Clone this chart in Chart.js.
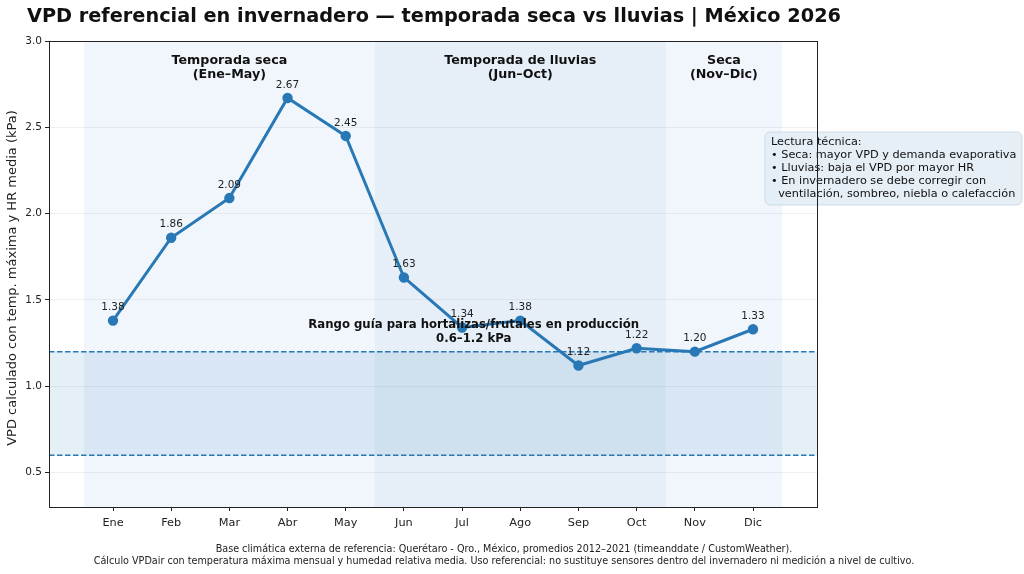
<!DOCTYPE html>
<html>
<head>
<meta charset="utf-8">
<script src="https://cdn.jsdelivr.net/npm/chart.js@4.4.1/dist/chart.umd.min.js"></script>
<style>
  html, body { margin: 0; padding: 0; background: #fff; }
  #wrap { width: 1024px; height: 574px; position: relative; }
</style>
</head>
<body>
<div id="wrap"><canvas id="vpdChart" width="1024" height="574"></canvas></div>
<script>
// === Data ===
const months = ['Ene', 'Feb', 'Mar', 'Abr', 'May', 'Jun', 'Jul', 'Ago', 'Sep', 'Oct', 'Nov', 'Dic'];
const vpdValues = [1.38, 1.86, 2.09, 2.67, 2.45, 1.63, 1.34, 1.38, 1.12, 1.22, 1.20, 1.33];
const yTicks = [0.5, 1.0, 1.5, 2.0, 2.5, 3.0];
const guideRange = [0.6, 1.2];
// seasons: month-index span, label lines, fill
const seasons = [
    { from: -0.5, to: 4.5, label: ['Temporada seca', '(Ene–May)'], fill: 'rgba(110,165,215,0.10)' },
    { from: 4.5, to: 9.5, label: ['Temporada de lluvias', '(Jun–Oct)'], fill: 'rgba(60,130,200,0.13)' },
    { from: 9.5, to: 11.5, label: ['Seca', '(Nov–Dic)'], fill: 'rgba(110,165,215,0.10)' }
];
const titleText = 'VPD referencial en invernadero — temporada seca vs lluvias | México 2026';
const yTitle = 'VPD calculado con temp. máxima y HR media (kPa)';
const noteLines = [
    'Lectura técnica:',
    '• Seca: mayor VPD y demanda evaporativa',
    '• Lluvias: baja el VPD por mayor HR',
    '• En invernadero se debe corregir con',
    '  ventilación, sombreo, niebla o calefacción'
];
const footerLines = [
    'Base climática externa de referencia: Querétaro - Qro., México, promedios 2012–2021 (timeanddate / CustomWeather).',
    'Cálculo VPDair con temperatura máxima mensual y humedad relativa media. Uso referencial: no sustituye sensores dentro del invernadero ni medición a nivel de cultivo.'
];

const FONT = '"DejaVu Sans", sans-serif';
const LINE = '#2878b5';

// === Drawing helpers ===
const decorPlugin = {
    id: 'decor',
    beforeDatasetsDraw(chart) {
        const { ctx, chartArea: a, scales: { x, y } } = chart;
        ctx.save();
        ctx.beginPath();
        ctx.rect(a.left, a.top, a.right - a.left, a.bottom - a.top);
        ctx.clip();
        // season spans
        seasons.forEach(s => {
            ctx.fillStyle = s.fill;
            ctx.fillRect(x.getPixelForValue(s.from), a.top, x.getPixelForValue(s.to) - x.getPixelForValue(s.from), a.bottom - a.top);
        });
        // guide band
        const yHi = y.getPixelForValue(guideRange[1]);
        const yLo = y.getPixelForValue(guideRange[0]);
        ctx.fillStyle = 'rgba(40,120,181,0.12)';
        ctx.fillRect(a.left, yHi, a.right - a.left, yLo - yHi);
        ctx.strokeStyle = LINE;
        ctx.lineWidth = 1.5;
        ctx.setLineDash([5.5, 2.5]);
        [yHi, yLo].forEach(py => {
            ctx.beginPath();
            ctx.moveTo(a.left, py);
            ctx.lineTo(a.right, py);
            ctx.stroke();
        });
        ctx.setLineDash([]);
        ctx.restore();

        // season labels
        ctx.save();
        ctx.fillStyle = '#111';
        ctx.font = 'bold 12.7px ' + FONT;
        ctx.textAlign = 'center';
        ctx.textBaseline = 'middle';
        seasons.forEach(s => {
            const cx = x.getPixelForValue((s.from + s.to) / 2);
            s.label.forEach((t, i) => ctx.fillText(t, cx, 60.5 + i * 14));
        });
        ctx.restore();
    },
    afterDatasetsDraw(chart) {
        const { ctx, chartArea: a, scales: { x, y } } = chart;
        ctx.save();
        // point labels
        ctx.fillStyle = '#222';
        ctx.font = '10.5px ' + FONT;
        ctx.textAlign = 'center';
        ctx.textBaseline = 'middle';
        vpdValues.forEach((v, i) => {
            ctx.fillText(v.toFixed(2), x.getPixelForValue(i), y.getPixelForValue(v) - 13);
        });
        // band label
        ctx.fillStyle = '#111';
        ctx.font = 'bold 11.7px ' + FONT;
        const bx = x.getPixelForValue(6.2);
        ctx.fillText('Rango guía para hortalizas/frutales en producción', bx, 324.5);
        ctx.fillText('0.6–1.2 kPa', bx, 338.5);

        // note box
        ctx.beginPath();
        ctx.roundRect(765, 132, 257, 73, 5);
        ctx.fillStyle = 'rgba(226,236,245,0.85)';
        ctx.fill();
        ctx.strokeStyle = 'rgba(190,208,225,0.7)';
        ctx.lineWidth = 1;
        ctx.stroke();
        ctx.fillStyle = '#111';
        ctx.font = '11.27px ' + FONT;
        ctx.textAlign = 'left';
        noteLines.forEach((t, i) => ctx.fillText(t, 771, 142.5 + i * 12.8));

        // axes box
        ctx.strokeStyle = '#222';
        ctx.lineWidth = 1;
        ctx.strokeRect(a.left + 0.5, a.top + 0.5, a.right - a.left, a.bottom - a.top);

        // y title
        ctx.save();
        ctx.translate(13, 278);
        ctx.rotate(-Math.PI / 2);
        ctx.textAlign = 'center';
        ctx.font = '13px ' + FONT;
        ctx.fillStyle = '#222';
        ctx.fillText(yTitle, 0, 0);
        ctx.restore();

        // title
        ctx.fillStyle = '#111';
        ctx.textAlign = 'left';
        ctx.font = 'bold 19.3px ' + FONT;
        ctx.fillText(titleText, 27, 17);

        // footer
        ctx.fillStyle = '#222';
        ctx.textAlign = 'center';
        ctx.font = '9.65px ' + FONT;
        footerLines.forEach((t, i) => ctx.fillText(t, 504, 549 + i * 12));
        ctx.restore();
    }
};

new Chart(document.getElementById('vpdChart').getContext('2d'), {
    type: 'line',
    data: {
        datasets: [{
            data: vpdValues.map((v, i) => ({ x: i, y: v })),
            borderColor: LINE,
            backgroundColor: LINE,
            borderWidth: 3,
            pointRadius: 3.7,
            pointHoverRadius: 3.7,
            tension: 0
        }]
    },
    options: {
        responsive: false,
        animation: false,
        events: [],
        layout: { padding: { left: 0, top: 41, right: 207, bottom: 0 } },
        plugins: { legend: { display: false }, tooltip: { enabled: false } },
        scales: {
            x: {
                type: 'linear',
                min: -1.1,
                max: 12.1,
                afterBuildTicks: axis => { axis.ticks = months.map((_, i) => ({ value: i })); },
                afterFit: s => { s.height = 67; },
                ticks: {
                    callback: v => months[v] ?? '',
                    color: '#222',
                    font: { family: FONT, size: 11.3 },
                    padding: 5,
                    maxRotation: 0,
                    autoSkip: false
                },
                grid: { drawOnChartArea: false, tickLength: 4, tickColor: '#222' },
                border: { display: false }
            },
            y: {
                min: 0.3,
                max: 3.0,
                afterBuildTicks: axis => { axis.ticks = yTicks.map(v => ({ value: v })); },
                afterFit: s => { s.width = 49; },
                ticks: {
                    callback: v => v.toFixed(1),
                    color: '#222',
                    font: { family: FONT, size: 10.5 },
                    padding: 3
                },
                grid: { color: 'rgba(0,0,0,0.06)', tickLength: 4, tickColor: '#222' },
                border: { display: false }
            }
        }
    },
    plugins: [decorPlugin]
});
</script>
</body>
</html>
